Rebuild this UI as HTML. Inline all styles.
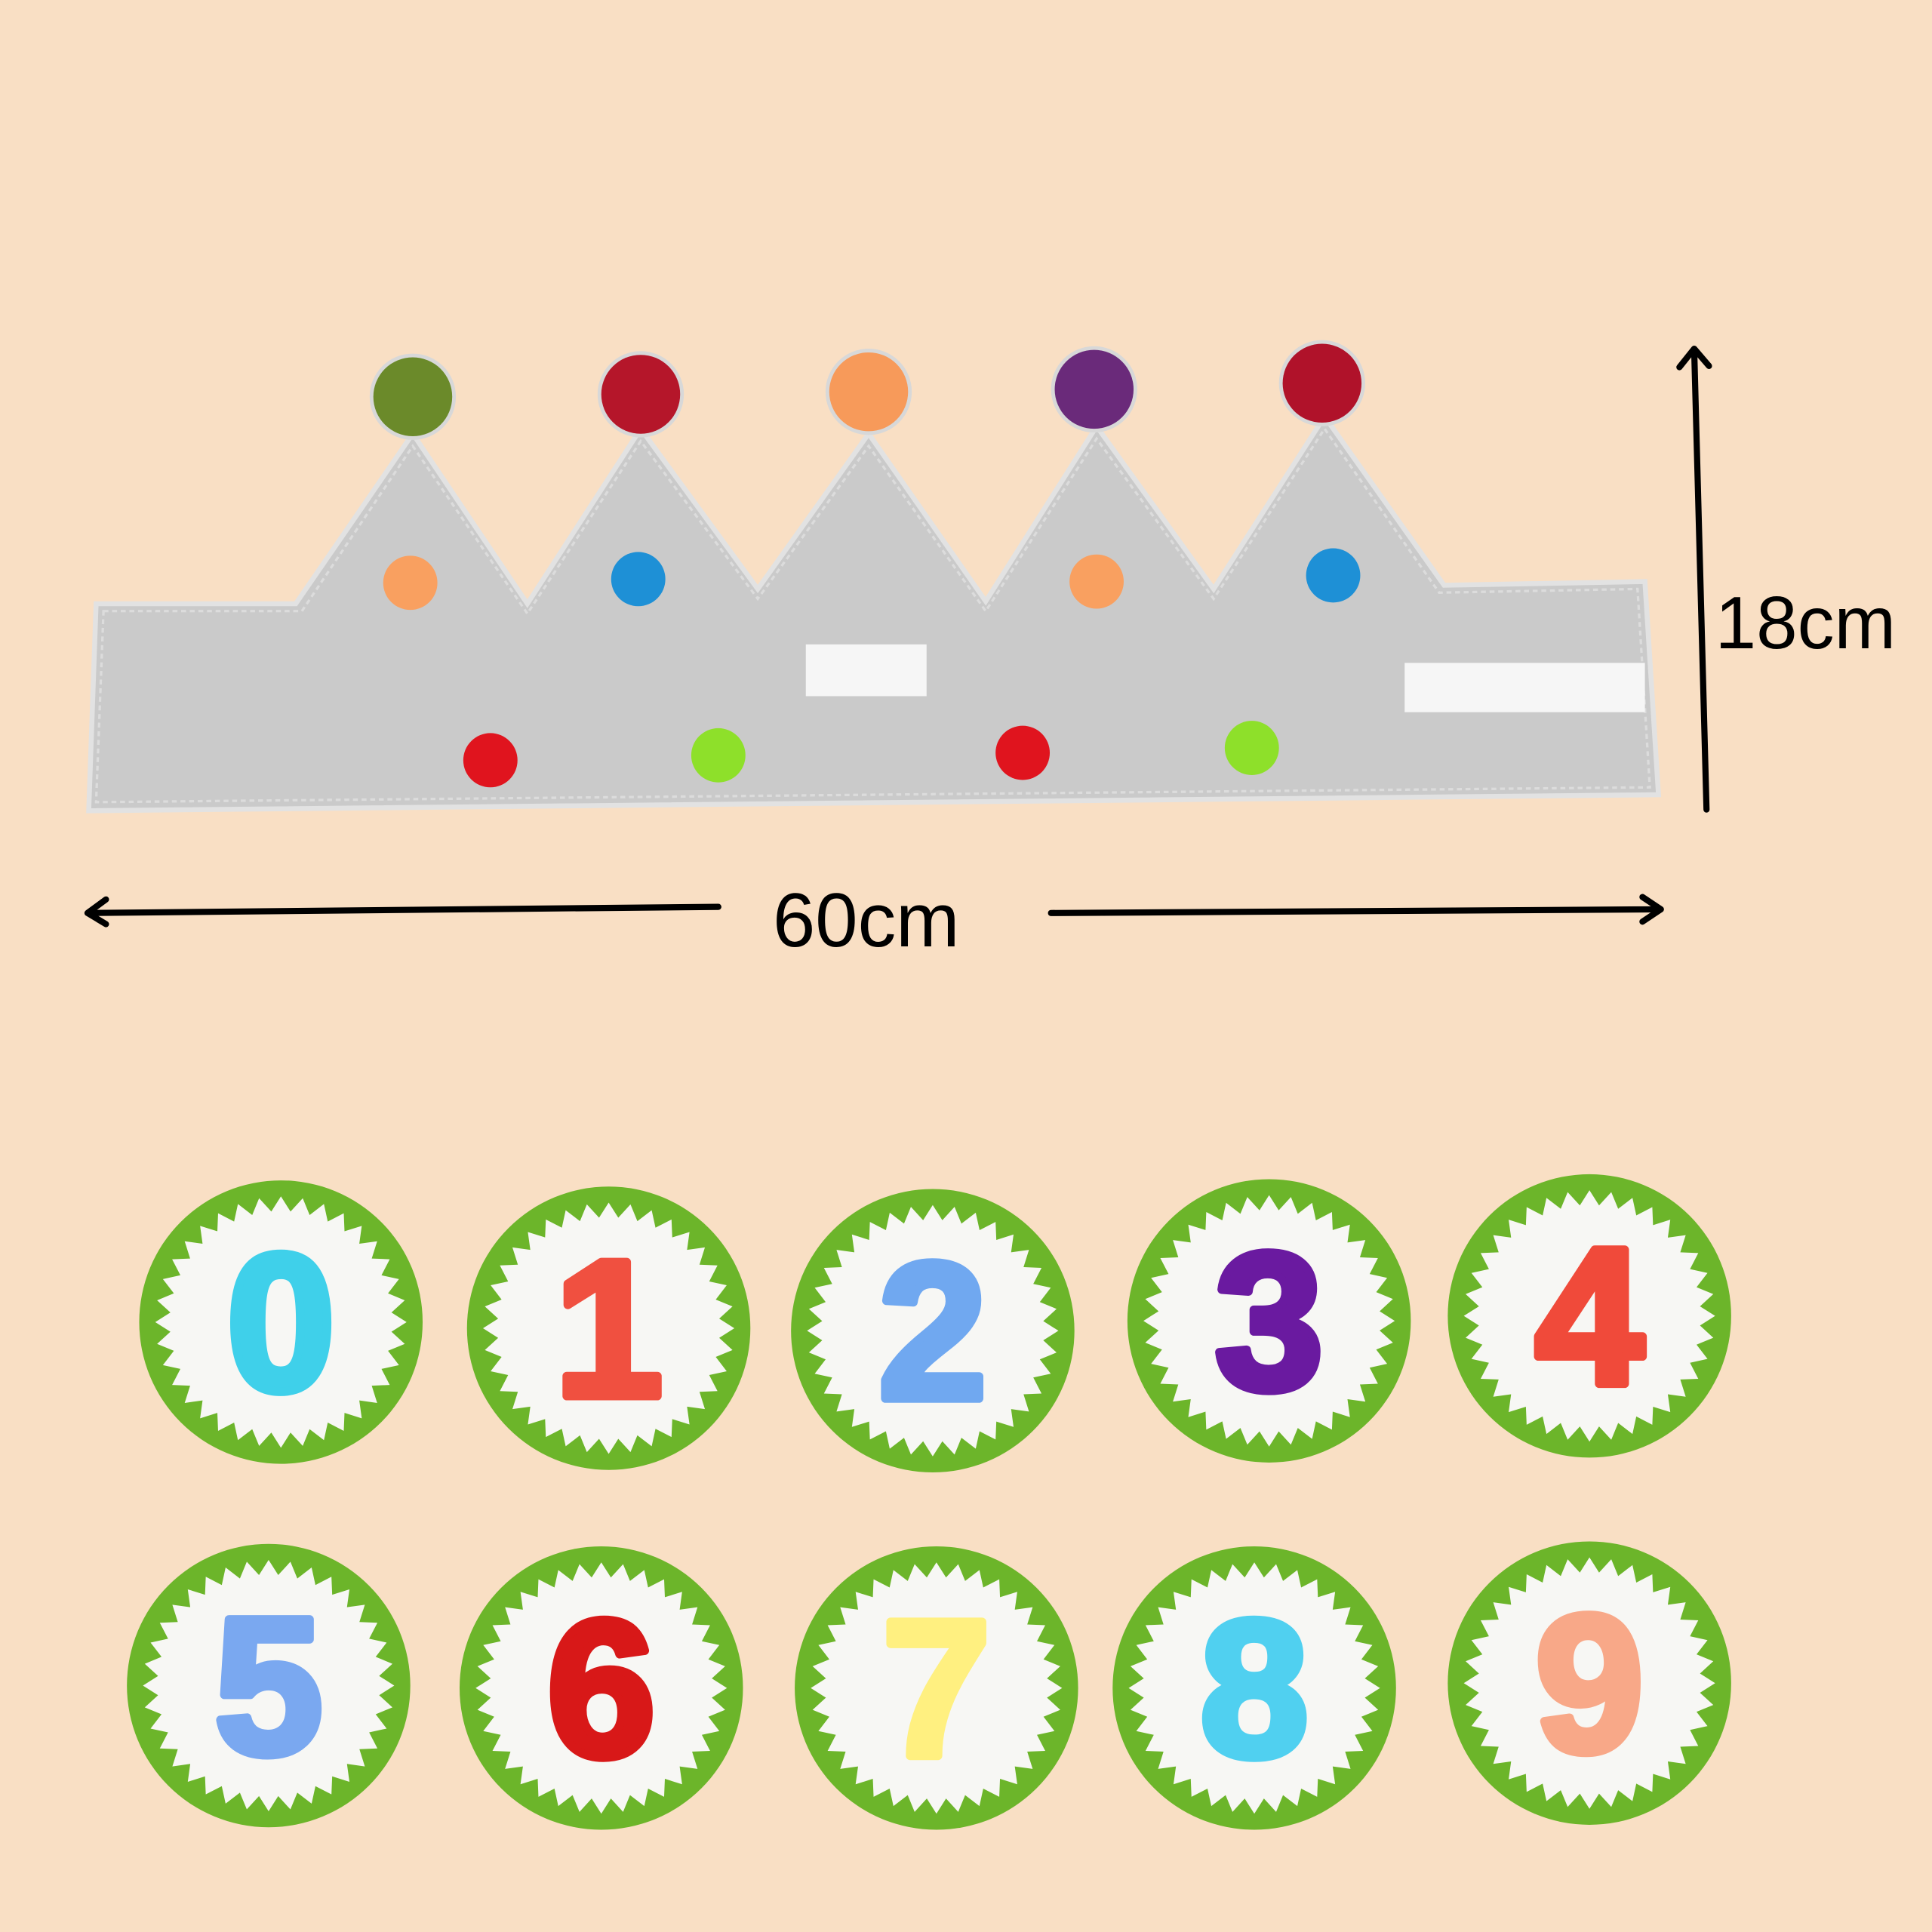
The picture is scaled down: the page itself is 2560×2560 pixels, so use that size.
<!DOCTYPE html>
<html><head><meta charset="utf-8"><style>
html,body{margin:0;padding:0;background:#f9dfc4;}
svg{display:block}
</style></head><body>
<svg id="s" width="2560" height="2560" viewBox="0 0 1568 1568" xmlns="http://www.w3.org/2000/svg">
<rect width="1568" height="1568" fill="#f9dfc4"/>
<polygon points="78,490 240,490 335,352 428,490 520,348 615,478 705,352 800,488 890,346 985,478 1075,338 1172,475 1335,472 1346,645 72,658" fill="#cacaca" stroke="#e2e2e2" stroke-width="4"/>
<polygon points="84,496 245,496 335,362 428,498 520,358 615,486 705,362 800,496 890,356 985,486 1075,348 1168,481 1329,478 1339,639 78,651" fill="none" stroke="#dcdcdc" stroke-width="2" stroke-dasharray="4,3"/>
<rect x="654" y="523" width="98" height="42" fill="#f6f6f6"/>
<rect x="1140" y="538" width="195" height="40" fill="#f6f6f6"/>
<g>
<circle cx="335" cy="322" r="35" fill="#d8d8d8"/><circle cx="335" cy="322" r="32" fill="#6b8a2a"/>
<circle cx="520" cy="320" r="35" fill="#d8d8d8"/><circle cx="520" cy="320" r="32" fill="#b5162a"/>
<circle cx="705" cy="318" r="35" fill="#d8d8d8"/><circle cx="705" cy="318" r="32" fill="#f79a5a"/>
<circle cx="888" cy="316" r="35" fill="#d8d8d8"/><circle cx="888" cy="316" r="32" fill="#6a2a7a"/>
<circle cx="1073" cy="311" r="35" fill="#d8d8d8"/><circle cx="1073" cy="311" r="32" fill="#b0122a"/>
<circle cx="333" cy="473" r="22" fill="#f9a060"/>
<circle cx="518" cy="470" r="22" fill="#1e90d6"/>
<circle cx="890" cy="472" r="22" fill="#f9a060"/>
<circle cx="1082" cy="467" r="22" fill="#1e90d6"/>
<circle cx="398" cy="617" r="22" fill="#e0141e"/>
<circle cx="583" cy="613" r="22" fill="#8ee02a"/>
<circle cx="830" cy="611" r="22" fill="#e0141e"/>
<circle cx="1016" cy="607" r="22" fill="#8ee02a"/>
</g>
<g stroke="#000" stroke-width="5" fill="none" stroke-linecap="round" stroke-linejoin="round">
<line x1="1375" y1="284" x2="1385" y2="657"/>
<polyline points="1363,298 1375,283 1387,297"/>
<line x1="72" y1="741" x2="583" y2="736"/>
<polyline points="86,730 71,741 86,750"/>
<line x1="853" y1="741" x2="1347" y2="738"/>
<polyline points="1333,728 1348,738 1333,748"/>
</g>
<text x="1392" y="526" font-family="Liberation Sans, sans-serif" font-size="60" fill="#000">18cm</text>
<text x="703" y="768" text-anchor="middle" font-family="Liberation Sans, sans-serif" font-size="62" fill="#000">60cm</text>
<g id="badges"></g>
</svg>
<script>
var data=[[228,1073,"0","#3fd0ea"],[494,1078,"1","#f05040"],[757,1080,"2","#70a8f0"],[1030,1072,"3","#6a1aa0"],[1290,1068,"4","#f04a3a"],
[218,1368,"5","#7aa8f0"],[488,1370,"6","#d81818"],[760,1370,"7","#fff080"],[1018,1370,"8","#50d0f0"],[1290,1366,"9","#f8a888"]];
var g=document.getElementById("badges"),h="";
data.forEach(function(d){
var cx=d[0],cy=d[1],pts=[],n=36;
for(var i=0;i<n*2;i++){var a=Math.PI*i/n,r=i%2?90:102;pts.push((cx+r*Math.cos(a)).toFixed(1)+","+(cy+r*Math.sin(a)).toFixed(1));}
h+='<circle cx="'+cx+'" cy="'+cy+'" r="115" fill="#6cb52a"/>';
h+='<polygon points="'+pts.join(" ")+'" fill="#f7f7f4"/>';
h+='<text x="'+cx+'" y="'+(cy+55)+'" text-anchor="middle" font-family="Liberation Sans, sans-serif" font-weight="bold" font-size="158" fill="'+d[3]+'" stroke="'+d[3]+'" stroke-width="7" stroke-linejoin="round">'+d[2]+'</text>';
});
g.innerHTML=h;
</script>
</body></html>
